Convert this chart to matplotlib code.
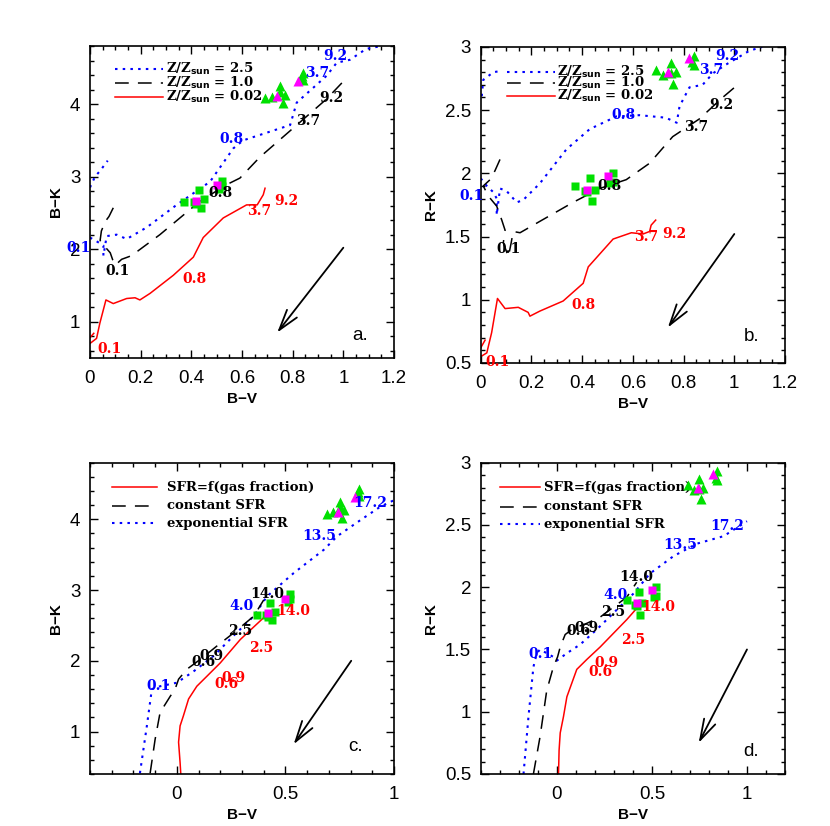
"""
Colour-colour diagrams: model tracks vs. galaxy photometry (panels a-d).
"""

import matplotlib.pyplot as plt
from matplotlib.ticker import FuncFormatter, MultipleLocator

OUT_PNG = "out.png"

BLUE = "#0000ff"
RED = "#ff0000"
GREEN = "#00e000"
MAGENTA = "#ff00ff"

# galaxy photometry (B-V, B-K, R-K)
SQ_BV = [0.37, 0.41, 0.43, 0.44, 0.45, 0.42, 0.52, 0.52, 0.51]
SQ_BK = [2.65, 2.65, 2.82, 2.57, 2.69, 2.62, 2.94, 2.87, 2.83]
SQ_RK = [1.90, 1.86, 1.96, 1.78, 1.87, 1.85, 2.00, 1.93, 1.92]
SQ_MAG_BV = [0.42, 0.50]
SQ_MAG_BK = [2.67, 2.88]
SQ_MAG_RK = [1.87, 1.98]

TR_BV = [0.69, 0.72, 0.75, 0.75, 0.76, 0.77, 0.84, 0.84, 0.835]
TR_BK = [4.08, 4.10, 4.25, 4.17, 4.02, 4.13, 4.43, 4.33, 4.38]
TR_RK = [2.82, 2.78, 2.87, 2.79, 2.71, 2.80, 2.93, 2.86, 2.88]
TR_MAG_BV = [0.74, 0.82]
TR_MAG_BK = [4.11, 4.32]
TR_MAG_RK = [2.80, 2.91]

# panel a: metallicity tracks, B-V vs B-K
A_BLUE_TOP_X = [0.0, 0.02, 0.04, 0.07]
A_BLUE_TOP_Y = [2.85, 3.0, 3.08, 3.22]
A_BLUE_X = [0.0, 0.03, 0.053, 0.053, 0.066, 0.105, 0.145, 0.224, 0.342, 0.474, 0.566,
            0.605, 0.79, 0.816, 0.934, 0.974, 1.026, 1.09, 1.15]
A_BLUE_Y = [2.16, 2.1, 2.05, 1.91, 2.18, 2.2, 2.14, 2.30, 2.61, 2.93, 3.39,
            3.5, 3.71, 4.02, 4.39, 4.57, 4.61, 4.76, 4.8]
A_BLACK_X = [0.092, 0.075, 0.06, 0.045, 0.04, 0.055, 0.08, 0.09, 0.1, 0.125, 0.164,
             0.276, 0.434, 0.54, 0.592, 0.671, 0.829, 0.934, 1.013]
A_BLACK_Y = [2.57, 2.45, 2.38, 2.25, 2.12, 2.05, 1.95, 1.85, 1.78, 1.86, 1.91,
             2.2, 2.66, 2.89, 2.98, 3.27, 3.75, 4.07, 4.36]
A_RED_X = [0.0, 0.026, 0.039, 0.063, 0.092, 0.145, 0.178, 0.197, 0.237, 0.329,
           0.408, 0.447, 0.526, 0.618, 0.66, 0.684, 0.691]
A_RED_Y = [0.70, 0.77, 0.98, 1.30, 1.25, 1.32, 1.33, 1.30, 1.39, 1.64,
           1.89, 2.16, 2.43, 2.61, 2.61, 2.75, 2.84]
A_RED_HOOK_X = [0.0, 0.015]
A_RED_HOOK_Y = [0.78, 0.84]

# panel b: metallicity tracks, B-V vs R-K
B_BLUE_TOP_X = [0.004, 0.01, 0.05, 0.08]
B_BLUE_TOP_Y = [2.61, 2.74, 2.80, 2.81]
B_BLUE_X = [0.0, 0.024, 0.05, 0.063, 0.063, 0.076, 0.102, 0.142, 0.168, 0.233, 0.338,
            0.43, 0.535, 0.626, 0.73, 0.773, 0.784, 0.823, 0.875, 0.915, 0.967, 1.06, 1.11]
B_BLUE_Y = [1.96, 1.90, 1.85, 1.80, 1.67, 1.88, 1.86, 1.77, 1.79, 1.92, 2.19,
            2.35, 2.45, 2.46, 2.44, 2.40, 2.53, 2.68, 2.70, 2.79, 2.86, 2.97, 3.0]
B_BLACK_X = [0.076, 0.056, 0.037, 0.01, 0.03, 0.063, 0.083, 0.096, 0.089, 0.109, 0.12,
             0.128, 0.155, 0.233, 0.364, 0.469, 0.574, 0.666, 0.757, 0.862, 0.954, 1.007]
B_BLACK_Y = [2.11, 2.02, 1.95, 1.90, 1.82, 1.74, 1.63, 1.55, 1.45, 1.34, 1.45,
             1.54, 1.53, 1.62, 1.77, 1.88, 1.95, 2.08, 2.29, 2.43, 2.60, 2.69]
B_RED_X = [0.0, 0.024, 0.043, 0.066, 0.096, 0.148, 0.187, 0.194, 0.233, 0.325,
           0.404, 0.424, 0.522, 0.594, 0.64, 0.666, 0.672, 0.69]
B_RED_Y = [0.55, 0.58, 0.74, 1.01, 0.93, 0.94, 0.90, 0.87, 0.91, 0.99,
           1.13, 1.26, 1.48, 1.53, 1.52, 1.54, 1.59, 1.63]
B_RED_HOOK_X = [0.0, 0.017]
B_RED_HOOK_Y = [0.62, 0.68]

# panel c: SFR laws, B-V vs B-K
C_BLUE_X = [-0.17, -0.138, -0.115, -0.077, 0.0, 0.077, 0.17, 0.26, 0.354, 0.415,
            0.538, 0.677, 0.738, 0.846, 0.938, 1.0]
C_BLUE_Y = [0.41, 1.08, 1.60, 1.64, 1.69, 1.85, 2.07, 2.35, 2.63, 2.91,
            3.24, 3.57, 3.76, 3.99, 4.18, 4.27]
C_BLACK_X = [-0.123, -0.1, -0.077, -0.03, -0.008, 0.008, 0.046, 0.108, 0.185, 0.26,
             0.354, 0.4]
C_BLACK_Y = [0.41, 0.89, 1.27, 1.50, 1.60, 1.74, 1.88, 2.02, 2.21, 2.39, 2.63, 2.86]
C_RED_X = [0.018, 0.015, 0.008, 0.015, 0.03, 0.054, 0.092, 0.138, 0.2, 0.292, 0.4]
C_RED_Y = [0.41, 0.56, 0.85, 1.08, 1.22, 1.46, 1.64, 1.78, 1.97, 2.30, 2.61]

# panel d: SFR laws, B-V vs R-K
D_BLUE_X = [-0.175, -0.149, -0.123, -0.105, -0.088, -0.018, 0.0, 0.053, 0.123, 0.21,
            0.316, 0.404, 0.49, 0.614, 0.737, 0.877, 1.0]
D_BLUE_Y = [0.5, 0.96, 1.36, 1.47, 1.50, 1.44, 1.41, 1.47, 1.54, 1.66,
            1.82, 1.95, 2.11, 2.25, 2.35, 2.41, 2.53]
D_BLACK_X = [-0.123, -0.088, -0.053, -0.018, 0.004, 0.018, 0.044, 0.088, 0.158, 0.228,
             0.298, 0.368, 0.42]
D_BLACK_Y = [0.5, 0.80, 1.17, 1.36, 1.44, 1.52, 1.62, 1.67, 1.71, 1.76, 1.84, 1.92, 2.04]
D_RED_X = [0.009, 0.012, 0.018, 0.035, 0.053, 0.079, 0.105, 0.158, 0.228, 0.298, 0.368, 0.42]
D_RED_Y = [0.5, 0.69, 0.83, 0.96, 1.12, 1.23, 1.34, 1.42, 1.52, 1.63, 1.74, 1.83]

# age labels (Gyr) along the tracks: (text, x, y, colour)
A_AGES = [("0.1", -0.046, 2.02, BLUE), ("0.8", 0.559, 3.52, BLUE), ("3.7", 0.895, 4.43, BLUE),
          ("9.2", 0.967, 4.66, BLUE), ("0.1", 0.108, 1.70, "k"), ("0.8", 0.513, 2.77, "k"),
          ("3.7", 0.862, 3.77, "k"), ("9.2", 0.954, 4.09, "k"), ("0.1", 0.079, 0.62, RED),
          ("0.8", 0.414, 1.59, RED), ("3.7", 0.668, 2.52, RED), ("9.2", 0.776, 2.67, RED)]
B_AGES = [("0.1", -0.035, 1.82, BLUE), ("0.8", 0.561, 2.46, BLUE), ("3.7", 0.908, 2.82, BLUE),
          ("9.2", 0.974, 2.93, BLUE), ("0.1", 0.109, 1.40, "k"), ("0.8", 0.509, 1.90, "k"),
          ("3.7", 0.85, 2.37, "k"), ("9.2", 0.948, 2.54, "k"), ("0.1", 0.066, 0.51, RED),
          ("0.8", 0.404, 0.96, RED), ("3.7", 0.653, 1.50, RED), ("9.2", 0.764, 1.52, RED)]
C_AGES = [("0.1", -0.085, 1.64, BLUE), ("4.0", 0.3, 2.77, BLUE), ("13.5", 0.654, 3.76, BLUE),
          ("17.2", 0.89, 4.23, BLUE), ("14.0", 0.415, 2.95, "k"), ("2.5", 0.292, 2.42, "k"),
          ("0.9", 0.16, 2.07, "k"), ("0.6", 0.123, 1.98, "k"), ("14.0", 0.538, 2.70, RED),
          ("2.5", 0.39, 2.18, RED), ("0.9", 0.26, 1.76, RED), ("0.6", 0.23, 1.67, RED)]
D_AGES = [("0.1", -0.088, 1.46, BLUE), ("4.0", 0.307, 1.94, BLUE), ("13.5", 0.65, 2.34, BLUE),
          ("17.2", 0.895, 2.49, BLUE), ("14.0", 0.42, 2.08, "k"), ("2.5", 0.295, 1.80, "k"),
          ("0.9", 0.158, 1.67, "k"), ("0.6", 0.114, 1.65, "k"), ("14.0", 0.535, 1.84, RED),
          ("2.5", 0.4, 1.58, RED), ("0.9", 0.263, 1.39, RED), ("0.6", 0.228, 1.32, RED)]

# reddening vectors: tail, head
A_ARROW = [(1.0, 2.02), (0.739, 0.85)]
B_ARROW = [(1.0, 1.52), (0.738, 0.78)]
C_ARROW = [(0.803, 2.0), (0.538, 0.82)]
D_ARROW = [(1.0, 1.50), (0.746, 0.75)]

Z_LABELS = [r"Z/Z$_\mathbf{sun}$ = 2.5", r"Z/Z$_\mathbf{sun}$ = 1.0", r"Z/Z$_\mathbf{sun}$ = 0.02"]
SFR_LABELS = ["SFR=f(gas fraction)", "constant SFR", "exponential SFR"]

DOT = dict(color=BLUE, ls=(0, (1.2, 2.5)), lw=1.5)
DASH = dict(color="k", ls=(0, (9, 6)), lw=1.1)
SOLID = dict(color=RED, ls="-", lw=1.1)

ANN_FONT = dict(family="DejaVu Serif", weight="bold", size=10)
KEY_FONT = dict(family="DejaVu Serif", weight="bold", size=9.5)


def style_axes(ax, xlim, ylim, xmaj, xmin, ymaj, ymin, ylabel):
    ax.set_xlim(*xlim)
    ax.set_ylim(*ylim)
    ax.xaxis.set_major_locator(MultipleLocator(xmaj))
    ax.xaxis.set_minor_locator(MultipleLocator(xmin))
    ax.yaxis.set_major_locator(MultipleLocator(ymaj))
    ax.yaxis.set_minor_locator(MultipleLocator(ymin))
    fmt = FuncFormatter(lambda v, p: f"{v:g}")
    ax.xaxis.set_major_formatter(fmt)
    ax.yaxis.set_major_formatter(fmt)
    ax.tick_params(which="both", direction="in", top=True, right=True, width=1.0,
                   labelsize=13.5)
    ax.tick_params(axis="x", pad=9)
    ax.tick_params(axis="y", pad=7)
    ax.tick_params(which="major", length=6)
    ax.tick_params(which="minor", length=3)
    for lab in ax.get_xticklabels() + ax.get_yticklabels():
        lab.set_family("Liberation Sans")
    for s in ax.spines.values():
        s.set_linewidth(1.2)
    ax.set_xlabel("B\u2212V", fontsize=11, fontweight="bold", family="Liberation Sans", labelpad=3)
    ax.set_ylabel(ylabel, fontsize=11, fontweight="bold", family="Liberation Sans", labelpad=5)


def plot_galaxies(ax, sq_y, sq_mag_y, tr_y, tr_mag_y):
    ax.plot(SQ_BV, sq_y, "s", color=GREEN, ms=5.5, mec="none", zorder=4)
    ax.plot(SQ_MAG_BV, sq_mag_y, "s", color=MAGENTA, ms=5.5, mec="none", zorder=5)
    ax.plot(TR_BV, tr_y, "^", color=GREEN, ms=6.5, mec="none", zorder=4)
    ax.plot(TR_MAG_BV, tr_mag_y, "^", color=MAGENTA, ms=6.5, mec="none", zorder=5)


def add_ages(ax, ages):
    for txt, x, y, c in ages:
        ax.text(x, y, txt, color=c, ha="center", va="center", clip_on=False, zorder=6, **ANN_FONT)


def add_arrow(ax, arrow, letter, lpos):
    (x0, y0), (x1, y1) = arrow
    ax.annotate("", xy=(x1, y1), xytext=(x0, y0),
                arrowprops=dict(arrowstyle="->,head_length=1.5,head_width=0.45",
                                lw=1.3, color="k", shrinkA=0, shrinkB=0))
    ax.text(lpos[0], lpos[1], letter, transform=ax.transAxes, fontsize=13.5,
            family="Liberation Sans", ha="center", va="center")


def add_key(ax, styles, labels, x0, x1, xt, rows):
    for st, lab, y in zip(styles, labels, rows):
        ax.plot([x0, x1], [y, y], transform=ax.transAxes, **st)
        ax.text(xt, y, lab, transform=ax.transAxes, ha="left", va="center", **KEY_FONT)


def main() -> None:
    fig = plt.figure(figsize=(8.3, 8.26), dpi=100)
    ax_a = fig.add_axes([0.1084, 0.5666, 0.3663, 0.3777])
    ax_b = fig.add_axes([0.5792, 0.5606, 0.3666, 0.3826])
    ax_c = fig.add_axes([0.1084, 0.0630, 0.3663, 0.3768])
    ax_d = fig.add_axes([0.5792, 0.0630, 0.3666, 0.3768])

    # a.
    ax_a.plot(A_BLUE_TOP_X, A_BLUE_TOP_Y, **DOT)
    ax_a.plot(A_BLUE_X, A_BLUE_Y, **DOT)
    ax_a.plot(A_BLACK_X, A_BLACK_Y, **DASH)
    ax_a.plot(A_RED_X, A_RED_Y, **SOLID)
    ax_a.plot(A_RED_HOOK_X, A_RED_HOOK_Y, **SOLID)
    plot_galaxies(ax_a, SQ_BK, SQ_MAG_BK, TR_BK, TR_MAG_BK)
    add_ages(ax_a, A_AGES)
    add_arrow(ax_a, A_ARROW, "a.", (0.89, 0.072))
    add_key(ax_a, [DOT, DASH, SOLID], Z_LABELS, 0.082, 0.24, 0.25, [0.926, 0.881, 0.837])
    style_axes(ax_a, (0, 1.2), (0.5, 4.8), 0.2, 0.05, 1, 0.2, "B\u2212K")

    # b.
    ax_b.plot(B_BLUE_TOP_X, B_BLUE_TOP_Y, **DOT)
    ax_b.plot(B_BLUE_X, B_BLUE_Y, **DOT)
    ax_b.plot(B_BLACK_X, B_BLACK_Y, **DASH)
    ax_b.plot(B_RED_X, B_RED_Y, **SOLID)
    ax_b.plot(B_RED_HOOK_X, B_RED_HOOK_Y, **SOLID)
    plot_galaxies(ax_b, SQ_RK, SQ_MAG_RK, TR_RK, TR_MAG_RK)
    add_ages(ax_b, B_AGES)
    add_arrow(ax_b, B_ARROW, "b.", (0.89, 0.083))
    add_key(ax_b, [DOT, DASH, SOLID], Z_LABELS, 0.086, 0.244, 0.25, [0.921, 0.886, 0.845])
    style_axes(ax_b, (0, 1.2), (0.5, 3.0), 0.2, 0.05, 0.5, 0.1, "R\u2212K")

    # c.
    ax_c.plot(C_BLUE_X, C_BLUE_Y, **DOT)
    ax_c.plot(C_BLACK_X, C_BLACK_Y, **DASH)
    ax_c.plot(C_RED_X, C_RED_Y, **SOLID)
    plot_galaxies(ax_c, SQ_BK, SQ_MAG_BK, TR_BK, TR_MAG_BK)
    add_ages(ax_c, C_AGES)
    add_arrow(ax_c, C_ARROW, "c.", (0.872, 0.088))
    add_key(ax_c, [SOLID, DASH, DOT], SFR_LABELS, 0.071, 0.219, 0.253, [0.922, 0.861, 0.806])
    style_axes(ax_c, (-0.4, 1.0), (0.4, 4.8), 0.5, 0.1, 1, 0.2, "B\u2212K")

    # d.
    ax_d.plot(D_BLUE_X, D_BLUE_Y, **DOT)
    ax_d.plot(D_BLACK_X, D_BLACK_Y, **DASH)
    ax_d.plot(D_RED_X, D_RED_Y, **SOLID)
    plot_galaxies(ax_d, SQ_RK, SQ_MAG_RK, TR_RK, TR_MAG_RK)
    add_ages(ax_d, D_AGES)
    add_arrow(ax_d, D_ARROW, "d.", (0.89, 0.072))
    add_key(ax_d, [SOLID, DASH, DOT], SFR_LABELS, 0.063, 0.195, 0.208, [0.922, 0.858, 0.803])
    style_axes(ax_d, (-0.4, 1.2), (0.5, 3.0), 0.5, 0.1, 0.5, 0.1, "R\u2212K")

    fig.savefig(OUT_PNG, dpi=100)
    plt.close(fig)


if __name__ == "__main__":
    main()
